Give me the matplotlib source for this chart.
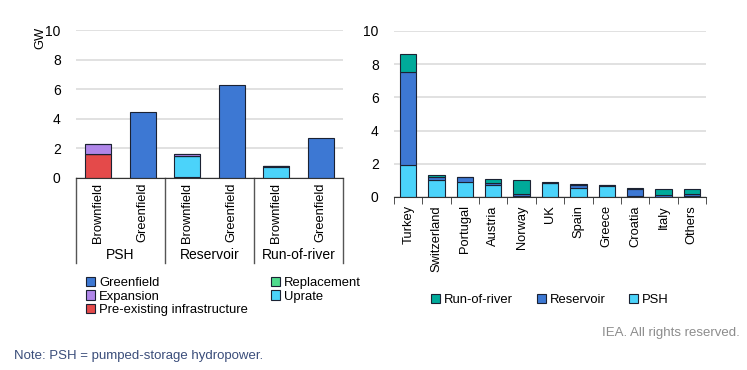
import matplotlib.pyplot as plt
import numpy as np
from matplotlib.patches import Patch

plt.rcParams['font.family'] = ['Liberation Sans', 'DejaVu Sans']
plt.rcParams['font.size'] = 9.3

# left panel: capacity by plant type and project type (GW)
sub_labels = ['Brownfield', 'Greenfield', 'Brownfield', 'Greenfield', 'Brownfield', 'Greenfield']
group_labels = ['PSH', 'Reservoir', 'Run-of-river']
pre_existing = [1.58, 0, 0.04, 0, 0, 0]
uprate = [0, 0, 1.45, 0, 0.70, 0]
replacement = [0, 0, 0, 0, 0.07, 0]
expansion = [0.70, 0, 0.11, 0, 0.04, 0]
greenfield = [0, 4.47, 0, 6.27, 0, 2.67]

# right panel: capacity by country (GW)
countries = ['Turkey', 'Switzerland', 'Portugal', 'Austria', 'Norway', 'UK',
             'Spain', 'Greece', 'Croatia', 'Italy', 'Others']
psh = [1.90, 1.00, 0.88, 0.72, 0.05, 0.82, 0.52, 0.68, 0.04, 0.03, 0.05]
reservoir = [5.65, 0.20, 0.34, 0.10, 0.15, 0.05, 0.20, 0.02, 0.47, 0.12, 0.12]
run_of_river = [1.05, 0.11, 0.00, 0.26, 0.82, 0.05, 0.04, 0.00, 0.01, 0.35, 0.29]

c_green = '#3d78d3'
c_exp = '#b086e9'
c_pre = '#e44a4a'
c_repl = '#4fdb8c'
c_uprate = '#4bd3fa'
c_ror = '#00aa9a'
edge = '#1b2233'
grid_c = '#dcdcdc'

fig = plt.figure(figsize=(7.47, 3.70), dpi=100)
ax1 = fig.add_axes([76/747, 1-177.7/370, 267/747, 147.7/370])
ax2 = fig.add_axes([394/747, 1-197/370, 312/747, 166/370])

for ax in (ax1, ax2):
    ax.set_ylim(0, 10)
    ax.set_yticks([0, 2, 4, 6, 8, 10])
    ax.grid(axis='y', color=grid_c, linewidth=1.2)
    ax.set_axisbelow(True)
    for s in ['left', 'right', 'top']:
        ax.spines[s].set_visible(False)
    ax.spines['bottom'].set_color('#333333')
    ax.tick_params(axis='y', length=0, pad=11, labelsize=10)

# left chart
x = np.arange(len(sub_labels))
bottom = np.zeros(len(x))
for vals, col in [(pre_existing, c_pre), (uprate, c_uprate), (replacement, c_repl),
                  (expansion, c_exp), (greenfield, c_green)]:
    ax1.bar(x, vals, 0.58, bottom=bottom, color=col, edgecolor=edge, linewidth=0.8)
    bottom += np.array(vals)
ax1.set_xlim(-0.5, len(x) - 0.5)
ax1.set_xticks([])
tr = ax1.get_xaxis_transform()
for i, lab in enumerate(sub_labels):
    ax1.text(i, -0.035, lab, rotation=90, ha='center', va='top', transform=tr)
for g, lab in enumerate(group_labels):
    ax1.text(2*g + 0.5, -0.525, lab, ha='center', va='center', transform=tr, fontsize=10)
for b in [-0.5, 1.5, 3.5, 5.5]:
    ax1.plot([b, b], [0, -0.58], color='#555555', linewidth=1, transform=tr, clip_on=False)
ax1.text(-0.135, 1.02, 'GW', rotation=90, ha='center', va='top', transform=ax1.transAxes)

# right chart
xr = np.arange(len(countries))
bottom = np.zeros(len(xr))
for vals, col in [(psh, c_uprate), (reservoir, c_green), (run_of_river, c_ror)]:
    ax2.bar(xr, vals, 0.58, bottom=bottom, color=col, edgecolor=edge, linewidth=0.8)
    bottom += np.array(vals)
ax2.set_xlim(-0.5, len(xr) - 0.5)
ax2.set_xticks(xr)
ax2.set_xticklabels(countries, rotation=90)
ax2.tick_params(axis='x', length=0, pad=6)
ax2.set_xticks(np.arange(-0.5, len(xr)), minor=True)
ax2.tick_params(axis='x', which='minor', length=5, color='#333333')

# legends
sq = dict(edgecolor=edge, linewidth=0.8)
h1 = [Patch(facecolor=c_green, label='Greenfield', **sq),
      Patch(facecolor=c_exp, label='Expansion', **sq),
      Patch(facecolor=c_pre, label='Pre-existing infrastructure', **sq),
      Patch(facecolor=c_repl, label='Replacement', **sq),
      Patch(facecolor=c_uprate, label='Uprate', **sq)]
fig.legend(handles=h1, ncol=2, loc='upper left', bbox_to_anchor=(86/747, 1-277/370),
           frameon=False, fontsize=9.4, handlelength=0.7, handleheight=0.7,
           handletextpad=0.3, columnspacing=1.75, labelspacing=0.1,
           borderpad=0, borderaxespad=0)
h2 = [Patch(facecolor=c_ror, label='Run-of-river', **sq),
      Patch(facecolor=c_green, label='Reservoir', **sq),
      Patch(facecolor=c_uprate, label='PSH', **sq)]
fig.legend(handles=h2, ncol=3, loc='center left', bbox_to_anchor=(431/747, 1-300/370),
           frameon=False, fontsize=9.4, handlelength=0.7, handleheight=0.7,
           handletextpad=0.3, columnspacing=1.8, borderpad=0, borderaxespad=0)

fig.text(740/747, 1-333/370, 'IEA. All rights reserved.', ha='right', va='center',
         color='#8c8c8c', fontsize=9.5)
fig.text(14/747, 1-356/370, 'Note: PSH = pumped-storage hydropower.', ha='left', va='center',
         color='#3a4d7a', fontsize=9.5)

plt.savefig('out.png', dpi=100)
